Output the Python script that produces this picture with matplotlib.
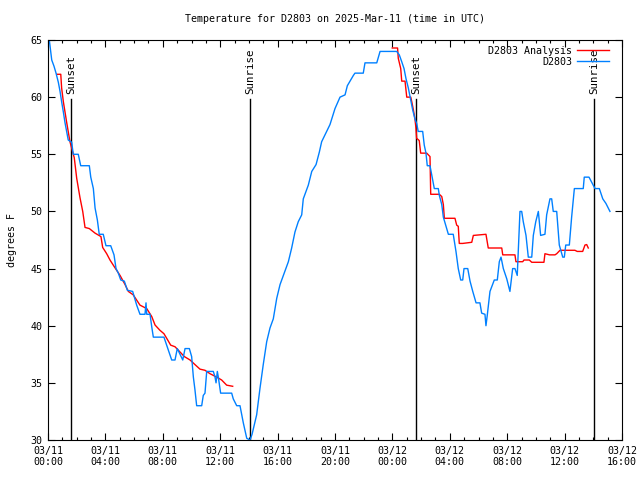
import numpy as np
import matplotlib
matplotlib.use('Agg')
from matplotlib import pyplot as plt

# hours since 03/11 00:00 UTC
obs_hours = [0.09, 0.26, 0.42, 0.56, 0.72, 0.84, 0.95, 1.07, 1.18, 1.30, 1.41, 1.65, 1.76, 2.11,
             2.28, 2.88, 2.98, 3.16, 3.28, 3.44, 3.57, 3.85, 4.04, 4.37, 4.60, 4.74, 4.90, 5.07,
             5.32, 5.53, 5.90, 6.18, 6.41, 6.76, 6.83, 6.88, 7.11, 7.23, 7.34, 8.08, 8.38, 8.62,
             8.85, 9.01, 9.20, 9.39, 9.55, 9.85, 10.01, 10.13, 10.24, 10.36, 10.71, 10.82, 10.94,
             11.06, 11.52, 11.64, 11.71, 11.80, 11.87, 12.03, 12.80, 12.91, 13.15, 13.38, 13.61,
             13.85, 14.08, 14.22, 14.54, 14.77, 15.00, 15.24, 15.47, 15.70, 15.94, 16.17, 16.40,
             16.75, 16.98, 17.21, 17.44, 17.68, 17.79, 18.14, 18.38, 18.68, 18.91, 19.07, 19.42,
             19.65, 20.00, 20.35, 20.70, 20.86, 21.28, 21.39, 21.97, 22.09, 22.91, 23.14, 24.30,
             24.48, 24.65, 24.81, 24.95, 25.11, 25.28, 25.41, 25.57, 25.69, 25.80, 26.11, 26.22,
             26.34, 26.43, 26.62, 26.74, 26.92, 27.20, 27.27, 27.44, 27.55, 27.74, 27.90, 28.24,
             28.43, 28.59, 28.76, 28.90, 28.99, 29.25, 29.41, 29.60, 29.83, 30.10, 30.22, 30.45,
             30.52, 30.61, 30.80, 31.10, 31.31, 31.45, 31.57, 31.73, 31.97, 32.19, 32.38, 32.54,
             32.70, 32.82, 32.89, 33.01, 33.12, 33.31, 33.47, 33.71, 33.82, 33.99, 34.17, 34.33,
             34.63, 34.75, 34.98, 35.10, 35.21, 35.45, 35.63, 35.87, 35.98, 36.08, 36.33, 36.49,
             36.68, 37.30, 37.37, 37.70, 38.00, 38.12, 38.42, 38.66, 38.88, 39.16]
obs_temp = [65.0, 63.25, 62.7, 62.1, 61.3, 60.5, 59.6, 58.7, 57.8, 57.0, 56.25, 56.05, 55.0, 55.0,
            54.0, 54.0, 53.0, 52.0, 50.3, 49.25, 48.0, 48.0, 47.0, 47.0, 46.2, 45.0, 44.6, 44.0,
            43.9, 43.1, 43.0, 41.8, 41.0, 41.0, 42.0, 41.0, 41.0, 39.9, 39.0, 39.0, 37.9, 37.0,
            37.0, 38.0, 37.5, 37.0, 38.0, 38.0, 37.3, 35.5, 34.4, 33.0, 33.0, 33.9, 34.1,
            36.0, 36.0, 35.5, 35.0, 36.0, 35.5, 34.1, 34.1, 33.6, 33.0, 33.0, 31.5,
            30.15, 30.0, 30.5, 32.2, 34.5, 36.6, 38.6, 39.8, 40.6, 42.4, 43.6, 44.4,
            45.6, 46.8, 48.2, 49.1, 49.7, 51.1, 52.3, 53.5, 54.1, 55.2, 56.1, 57.0,
            57.6, 59.0, 60.0, 60.2, 61.0, 61.9, 62.1, 62.1, 63.0, 63.0, 64.0, 64.0,
            63.7, 63.1, 62.5, 61.6, 60.8, 59.75, 58.9, 58.1, 57.7, 57.0, 57.0, 55.8,
            55.1, 54.0, 54.0, 53.2, 52.0, 52.0, 51.4, 50.6, 49.5, 48.7, 48.0, 48.0,
            46.5, 45.0, 44.0, 44.0, 45.0, 45.0, 43.9, 43.0, 42.0, 42.0, 41.1, 41.0,
            40.0, 40.9, 43.0, 44.0, 44.0, 45.6, 46.0, 45.0, 44.1, 43.0, 45.0, 45.0,
            44.4, 47.9, 50.0, 50.0, 49.1, 47.9, 46.0, 46.0, 47.9, 49.1, 50.0, 47.9,
            48.0, 49.7, 51.1, 51.1, 50.0, 50.0, 47.06, 46.0, 46.0, 47.06, 47.06, 49.5,
            52.0, 52.0, 53.0, 53.0, 52.3, 52.0, 52.0, 51.1, 50.7, 50.0]

ana_hours = [0.61, 0.89, 0.95, 1.07, 1.30, 1.53, 1.72, 1.83, 2.00, 2.23, 2.42, 2.58, 2.88, 3.28,
             3.69, 3.81, 4.09, 4.32, 4.60, 5.02, 5.37, 5.60, 5.94, 6.41, 6.88, 7.23, 7.46, 7.80,
             8.08, 8.27, 8.55, 8.85, 9.20, 9.50, 9.90, 10.24, 10.59, 10.94, 11.29, 11.76, 12.10,
             12.45, 12.87, np.nan,
             23.99, 24.36, 24.41, 24.58, 24.65, 24.88, 25.00, 25.28, 25.35, 25.46, 25.57, 25.64,
             25.69, 25.87, 25.97, 26.39, 26.62, 26.67, 27.27, 27.44, 27.55, 27.62, 28.36, 28.48,
             28.59, 28.66, 28.90, 29.53, 29.64, 30.52, 30.68, 31.62, 31.69, 32.54, 32.61, 33.08,
             33.17, 33.54, 33.71, 34.56, 34.63, 34.95, 35.33, 35.45, 35.68, 36.72, 36.88, 37.26,
             37.42, 37.54, 37.65]
ana_temp = [62.0, 62.0, 60.8, 59.6, 57.8, 56.1, 55.2, 54.7, 52.9, 51.2, 50.0, 48.6, 48.5, 48.1,
            47.8, 46.85, 46.3, 45.75, 45.2, 44.4, 43.6, 43.0, 42.7, 41.8, 41.5, 40.8, 40.06, 39.6,
            39.3, 38.9, 38.3, 38.16, 37.7, 37.3, 37.0, 36.6, 36.2, 36.1, 35.8, 35.5, 35.25,
            34.8, 34.7, np.nan,
            64.3, 64.3, 63.4, 62.5, 61.4, 61.4, 60.0, 60.0, 59.6, 58.9, 58.1, 57.3,
            56.4, 56.2, 55.1, 55.1, 54.8, 51.5, 51.5, 51.3, 50.6, 49.4, 49.4, 48.8,
            48.7, 47.2, 47.2, 47.3, 47.9, 48.0, 46.8, 46.8, 46.2, 46.2, 45.6, 45.6,
            45.75, 45.75, 45.55, 45.55, 46.3, 46.2, 46.2, 46.3, 46.6, 46.6, 46.5, 46.5,
            47.06, 47.1, 46.8]

sun_hours = [1.60, 14.08, 25.67, 38.07]
sun_labels = ['Sunset', 'Sunrise', 'Sunset', 'Sunrise']

tick_hours = list(range(0, 41, 4))
tick_labels = ['03/11\n00:00', '03/11\n04:00', '03/11\n08:00', '03/11\n12:00', '03/11\n16:00',
               '03/11\n20:00', '03/12\n00:00', '03/12\n04:00', '03/12\n08:00', '03/12\n12:00',
               '03/12\n16:00']

plt.rcParams['font.family'] = ['DejaVu Sans Mono']
plt.rcParams['font.size'] = 7.2

fig = plt.figure(figsize=(6.4, 4.8), dpi=100)
ax = fig.add_axes([48 / 640, 40 / 480, 574 / 640, 400 / 480])

for h, lab in zip(sun_hours, sun_labels):
    ax.plot([h, h], [30, 59.8], color='black', lw=1.0)
    ax.text(h, 60.3, lab, rotation=90, ha='center', va='bottom', fontsize=7.8)

ax.plot(ana_hours, ana_temp, color='#ff0000', lw=1.0, label='D2803 Analysis')
ax.plot(obs_hours, obs_temp, color='#0080ff', lw=1.0, label='D2803')

ax.set_xlim(0, 40)
ax.set_ylim(30, 65)
ax.set_xticks(tick_hours)
ax.set_xticklabels(tick_labels)
ax.set_xticks(range(0, 41), minor=True)
ax.set_yticks(range(30, 66, 5))
ax.tick_params(which='both', direction='in', top=True, right=True, pad=4)
ax.tick_params(which='major', length=5, width=0.8)
ax.tick_params(which='minor', length=2.5, width=0.8)
ax.set_ylabel('degrees F', labelpad=10)
ax.set_title('Temperature for D2803 on 2025-Mar-11 (time in UTC)', fontsize=7.2, pad=13)

ax.legend(loc='upper right', bbox_to_anchor=(0.988, 1.0), frameon=False, markerfirst=False,
          handlelength=3.2, borderaxespad=0.2, labelspacing=0.1, handletextpad=0.5)

fig.savefig('out.png', dpi=100)
